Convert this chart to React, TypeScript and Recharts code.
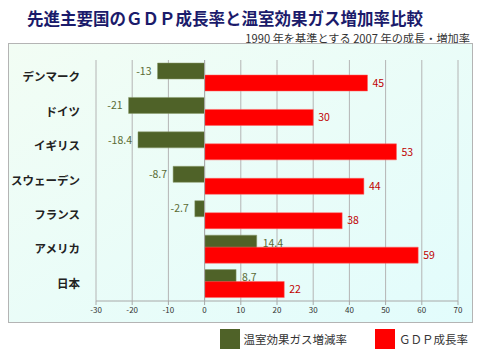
import { BarChart, Bar, XAxis, YAxis, CartesianGrid, ReferenceLine, LabelList } from "recharts";

const countries = ["デンマーク", "ドイツ", "イギリス", "スウェーデン", "フランス", "アメリカ", "日本"];
const gasRates = [-13, -21, -18.4, -8.7, -2.7, 14.4, 8.7];
const gdpRates = [45, 30, 53, 44, 38, 59, 22];
const xTicks = [-30, -20, -10, 0, 10, 20, 30, 40, 50, 60, 70];

const GAS_COLOR = "#4f6228";
const GDP_COLOR = "#ff0000";

const data = countries.map((name, i) => ({ name, gas: gasRates[i], gdp: gdpRates[i] }));

const FONT = "'Noto Sans CJK JP', 'Noto Sans', sans-serif";

const legendItems = [
  { label: "温室効果ガス増減率", color: GAS_COLOR },
  { label: "ＧＤＰ成長率", color: GDP_COLOR },
];

function ChartLegend() {
  return (
    <div style={{ position: "absolute", left: 0, right: 12, top: 329, display: "flex", justifyContent: "flex-end", gap: 28 }}>
      {legendItems.map((it) => (
        <div key={it.label} style={{ display: "flex", alignItems: "center", gap: 4 }}>
          <div style={{ width: 20, height: 20, backgroundColor: it.color }} />
          <span style={{ fontSize: 11.5, color: "#333" }}>{it.label}</span>
        </div>
      ))}
    </div>
  );
}

export default function App() {
  return (
    <div style={{ position: "absolute", left: 0, top: 0, width: 480, height: 360, background: "#fff", fontFamily: FONT }}>
      <div style={{ position: "absolute", left: 27, top: 6, fontSize: 16.5, fontWeight: 700, color: "#1b1b6b", whiteSpace: "nowrap" }}>
        先進主要国のＧＤＰ成長率と温室効果ガス増加率比較
      </div>
      <div style={{ position: "absolute", right: 10, top: 30, fontSize: 11.2, color: "#333", whiteSpace: "nowrap" }}>
        1990 年を基準とする 2007 年の成長・増加率
      </div>
      <div
        style={{
          position: "absolute",
          left: 8,
          top: 43,
          width: 463,
          height: 278,
          border: "1px solid #b4b4b4",
          background: "linear-gradient(to bottom right, #f2fdf4, #e2fcfc)",
        }}
      />
      <div style={{ position: "absolute", left: 0, top: 0 }}>
        <BarChart
          width={480}
          height={360}
          data={data}
          layout="vertical"
          margin={{ top: 60, right: 22, bottom: 39, left: 10 }}
          barGap={-4}
        >
          <CartesianGrid horizontal={false} stroke="#b4b4b4" />
          <XAxis
            type="number"
            domain={[-30, 70]}
            ticks={xTicks}
            height={20}
            interval={0}
            stroke="#a8a8a8"
            tickSize={4}
            tickMargin={2}
            tick={{ fontSize: 8, fill: "#333" }}
          />
          <YAxis
            type="category"
            dataKey="name"
            width={86}
            axisLine={false}
            tickLine={false}
            tickSize={6}
            tickMargin={10}
            tick={{ fontSize: 11.5, fontWeight: 700, fill: "#222" }}
          />
          <ReferenceLine x={0} stroke="#a8a8a8" />
          <Bar dataKey="gas" name="温室効果ガス増減率" fill={GAS_COLOR} stroke="#8a9a6a" strokeWidth={0.5} barSize={16} isAnimationActive={false}>
            <LabelList dataKey="gas" position="right" offset={6} fill="#5a6b34" fontSize={10.5} />
          </Bar>
          <Bar dataKey="gdp" name="ＧＤＰ成長率" fill={GDP_COLOR} stroke="#ff6060" strokeWidth={0.5} barSize={16} isAnimationActive={false}>
            <LabelList dataKey="gdp" position="right" offset={5} fill="#c00000" fontSize={10.5} />
          </Bar>
        </BarChart>
      </div>
      <ChartLegend />
    </div>
  );
}
